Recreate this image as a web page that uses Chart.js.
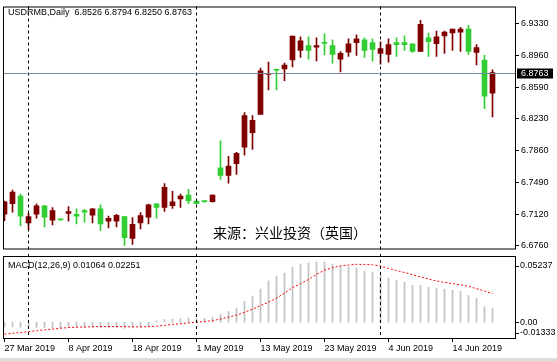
<!DOCTYPE html>
<html>
<head>
<meta charset="utf-8">
<script src="https://cdn.jsdelivr.net/npm/chart.js@4.4.1/dist/chart.umd.min.js"></script>
<style>
    html, body { margin: 0; padding: 0; background: #fff; }
    #wrap { position: relative; width: 557px; height: 361px; overflow: hidden; background: #fff; }
    canvas { position: absolute; left: 0; }
    #main { top: 0; }
    #macd { top: 254px; background: #fff; }
    .lbl { position: absolute; font: 9px "Liberation Sans", Arial, sans-serif; line-height: 11px; color: #000; white-space: pre; }
    #src { position: absolute; left: 213px; top: 224px; font: 14px "Noto Sans CJK SC", sans-serif; line-height: 16px; color: #000; white-space: pre; }
    #edge { position: absolute; left: 0; top: 358px; width: 557px; height: 3px; background: #dcdcdc; }
</style>
</head>
<body>
<div id="wrap">
    <canvas id="main" width="557" height="256"></canvas>
    <canvas id="macd" width="557" height="107"></canvas>
    <div class="lbl" id="head" style="left:8px;top:7px"></div>
    <div class="lbl" id="macdHead" style="left:8px;top:260px"></div>
    <div id="src"></div>
    <div id="edge"></div>
</div>
<script>
'use strict';

// --- DATA ---
const symbol = 'USDRMB,Daily';
const sourceText = '来源：兴业投资（英国）';

const dates = [
    '2019-03-27', '2019-03-28', '2019-03-29', '2019-04-01', '2019-04-02', '2019-04-03', '2019-04-04', '2019-04-05',
    '2019-04-08', '2019-04-09', '2019-04-10', '2019-04-11', '2019-04-12', '2019-04-15', '2019-04-16', '2019-04-17',
    '2019-04-18', '2019-04-22', '2019-04-23', '2019-04-24', '2019-04-25', '2019-04-26', '2019-04-29', '2019-04-30',
    '2019-05-01', '2019-05-02', '2019-05-03', '2019-05-06', '2019-05-07', '2019-05-08', '2019-05-09', '2019-05-10',
    '2019-05-13', '2019-05-14', '2019-05-15', '2019-05-16', '2019-05-17', '2019-05-20', '2019-05-21', '2019-05-22',
    '2019-05-23', '2019-05-24', '2019-05-27', '2019-05-28', '2019-05-29', '2019-05-30', '2019-05-31', '2019-06-03',
    '2019-06-04', '2019-06-05', '2019-06-06', '2019-06-07', '2019-06-10', '2019-06-11', '2019-06-12', '2019-06-13',
    '2019-06-14', '2019-06-17', '2019-06-18', '2019-06-19', '2019-06-20', '2019-06-21'
];

const open = [
    6.7122, 6.7246, 6.7333, 6.7021, 6.7122, 6.7220, 6.7055, 6.7062, 6.7133, 6.7122, 6.7164, 6.7111, 6.7186, 6.7043, 6.7043, 6.7096,
    6.6841, 6.7021, 6.7088, 6.7243, 6.7201, 6.7223, 6.7299, 6.7344, 6.7276, 6.7276, 6.7268, 6.7659, 6.7572, 6.7707, 6.7898, 6.8067,
    6.8280, 6.8742, 6.8800, 6.8806, 6.8910, 6.9019, 6.9076, 6.9057, 6.9110, 6.9076, 6.8918, 6.9000, 6.9110, 6.9143, 6.9110, 6.8986,
    6.8975, 6.9110, 6.9110, 6.9098, 6.9008, 6.9166, 6.9098, 6.9188, 6.9222, 6.9233, 6.9267, 6.8997, 6.8907, 6.8526
];
const high = [
    6.7276, 6.7403, 6.7355, 6.7133, 6.7243, 6.7226, 6.7201, 6.7063, 6.7212, 6.7186, 6.7178, 6.7188, 6.7231, 6.7100, 6.7122, 6.7096,
    6.7085, 6.7141, 6.7239, 6.7243, 6.7479, 6.7389, 6.7355, 6.7411, 6.7276, 6.7276, 6.7346, 6.7974, 6.7794, 6.7839, 6.8300, 6.8266,
    6.8817, 6.8885, 6.8806, 6.8873, 6.9187, 6.9177, 6.9177, 6.9166, 6.9211, 6.9143, 6.9008, 6.9154, 6.9200, 6.9166, 6.9154, 6.9121,
    6.9154, 6.9166, 6.9188, 6.9098, 6.9368, 6.9222, 6.9244, 6.9244, 6.9267, 6.9289, 6.9312, 6.9087, 6.8963, 6.8794
];
const low = [
    6.7048, 6.7145, 6.6987, 6.6947, 6.7077, 6.6976, 6.6998, 6.7055, 6.7043, 6.7010, 6.7032, 6.7021, 6.6931, 6.6965, 6.6976, 6.6762,
    6.6773, 6.6953, 6.7010, 6.7077, 6.7156, 6.7190, 6.7201, 6.7246, 6.7246, 6.7259, 6.7262, 6.7527, 6.7482, 6.7583, 6.7808, 6.7872,
    6.8280, 6.8562, 6.8562, 6.8671, 6.8828, 6.8940, 6.8918, 6.8899, 6.8967, 6.8873, 6.8772, 6.8952, 6.8963, 6.8940, 6.8896, 6.8862,
    6.8884, 6.8952, 6.9019, 6.8997, 6.9008, 6.8952, 6.8952, 6.8986, 6.9019, 6.9008, 6.8975, 6.8851, 6.8345, 6.8250
];
const close = [
    6.7265, 6.7378, 6.7100, 6.7096, 6.7220, 6.7088, 6.7164, 6.7058, 6.7153, 6.7100, 6.7145, 6.7186, 6.7010, 6.7074, 6.7111, 6.6852,
    6.7006, 6.7108, 6.7231, 6.7201, 6.7434, 6.7265, 6.7333, 6.7280, 6.7246, 6.7268, 6.7344, 6.7572, 6.7681, 6.7828, 6.8266, 6.8210,
    6.8783, 6.8750, 6.8790, 6.8851, 6.9187, 6.9132, 6.9019, 6.9076, 6.9102, 6.8975, 6.8986, 6.9098, 6.9154, 6.9019, 6.9031, 6.9042,
    6.9087, 6.9087, 6.9087, 6.9008, 6.9323, 6.9121, 6.9177, 6.9233, 6.9267, 6.9267, 6.9008, 6.9053, 6.8491, 6.8763
];

// MACD(12,26,9): main line drawn as histogram, signal as dotted line
const macdHist = [
    -0.0040, -0.0038, -0.0040, -0.0044, -0.0042, -0.0043, -0.0044, -0.0045, -0.0043, -0.0044, -0.0043, -0.0042, -0.0044, -0.0045, -0.0044, -0.0048,
    -0.0046, -0.0043, -0.0036, 0.0010, 0.0022, 0.0024, 0.0028, 0.0032, 0.0028, 0.0030, 0.0038, 0.0062, 0.0086, 0.0110, 0.0166, 0.0206,
    0.0262, 0.0326, 0.0364, 0.0388, 0.0436, 0.0460, 0.0468, 0.0476, 0.0476, 0.0460, 0.0444, 0.0436, 0.0428, 0.0404, 0.0396, 0.0380,
    0.0348, 0.0332, 0.0316, 0.0292, 0.0292, 0.0276, 0.0268, 0.0260, 0.0252, 0.0244, 0.0212, 0.0188, 0.0123, 0.01064
];
const macdSignal = [
    -0.0095, -0.0088, -0.0082, -0.0075, -0.0068, -0.0061, -0.0055, -0.0048, -0.0043, -0.0040, -0.0038, -0.0036, -0.0035, -0.0035, -0.0035, -0.0036,
    -0.0037, -0.0037, -0.0036, -0.0032, -0.0025, -0.0018, -0.0012, -0.0006, 0.0000, 0.0005, 0.0012, 0.0025, 0.0040, 0.0056, 0.0078, 0.0103,
    0.0131, 0.0158, 0.0190, 0.0230, 0.0273, 0.0305, 0.0337, 0.0378, 0.0412, 0.0430, 0.0446, 0.0452, 0.0458, 0.0457, 0.0454, 0.0444,
    0.0425, 0.0409, 0.0393, 0.0375, 0.0358, 0.0342, 0.0326, 0.0315, 0.0305, 0.0295, 0.0284, 0.0265, 0.0246, 0.02251
];

const priceTicks = [6.9330, 6.8960, 6.8590, 6.8230, 6.7860, 6.7490, 6.7120, 6.6760];
const macdTicks = [0.05237, 0.00, -0.01333];
const priceMin = 6.6714, priceMax = 6.9529;
const dateTickStep = 8;
const monthNames = ['Jan', 'Feb', 'Mar', 'Apr', 'May', 'Jun', 'Jul', 'Aug', 'Sep', 'Oct', 'Nov', 'Dec'];

// --- HELPERS ---
const BULL = '#800000', BEAR = '#32cd32';
const FONT = { family: '"Liberation Sans", Arial, sans-serif', size: 9, lineHeight: 1 };
const X_MIN = -0.1875, X_MAX = X_MIN + 513 / 8;

const last = dates.length - 1;
const idx = dates.map((d, i) => i);
const colors = close.map((c, i) => (c >= open[i] ? BULL : BEAR));
const monthStarts = idx.filter(i => i > 0 && dates[i].slice(5, 7) !== dates[i - 1].slice(5, 7));
const dateTicks = idx.filter(i => i % dateTickStep === 0);

function formatDate(d) {
    return `${+d.slice(8, 10)} ${monthNames[+d.slice(5, 7) - 1]} ${d.slice(0, 4)}`;
}

document.getElementById('head').textContent =
    `${symbol}  ${open[last].toFixed(4)} ${high[last].toFixed(4)} ${low[last].toFixed(4)} ${close[last].toFixed(4)}`;
document.getElementById('macdHead').textContent =
    `MACD(12,26,9) ${macdHist[last].toFixed(5)} ${macdSignal[last].toFixed(5)}`;
document.getElementById('src').textContent = sourceText;

// --- PLUGINS ---
const framePlugin = {
    id: 'frame',
    afterDraw(chart) {
        const { ctx, chartArea: a } = chart;
        ctx.save();
        ctx.strokeStyle = '#000';
        ctx.lineWidth = 1;
        ctx.strokeRect(a.left + 0.5, a.top + 0.5, a.right - a.left - 1, a.bottom - a.top - 1);
        ctx.restore();
    }
};

function separatorPlugin(fromTop) {
    return {
        id: 'separators',
        afterDatasetsDraw(chart) {
            const { ctx, chartArea: a, scales } = chart;
            ctx.save();
            ctx.strokeStyle = '#000';
            ctx.lineWidth = 1;
            ctx.setLineDash([3, 3]);
            monthStarts.forEach(i => {
                const px = Math.floor(scales.x.getPixelForValue(i)) + 0.5;
                ctx.beginPath();
                ctx.moveTo(px, fromTop ? 0 : a.top);
                ctx.lineTo(px, a.bottom);
                ctx.stroke();
            });
            ctx.restore();
        }
    };
}

const priceLinePlugin = {
    id: 'priceLine',
    afterDatasetsDraw(chart) {
        const { ctx, chartArea: a, scales } = chart;
        const py = Math.round(scales.y.getPixelForValue(close[last])) + 0.5;
        ctx.save();
        ctx.strokeStyle = '#778899';
        ctx.lineWidth = 1;
        ctx.beginPath();
        ctx.moveTo(a.left, py);
        ctx.lineTo(a.right, py);
        ctx.stroke();
        ctx.fillStyle = '#000';
        ctx.fillRect(a.right + 1, py - 5, 36, 10);
        ctx.fillStyle = '#fff';
        ctx.font = `${FONT.size}px ${FONT.family}`;
        ctx.textBaseline = 'middle';
        ctx.fillText(close[last].toFixed(4), a.right + 5, py + 0.5);
        ctx.restore();
    }
};

const macdAxisPlugin = {
    id: 'macdAxis',
    afterDraw(chart) {
        const { ctx, chartArea: a, scales } = chart;
        ctx.save();
        ctx.fillStyle = '#000';
        ctx.strokeStyle = '#000';
        ctx.font = `${FONT.size}px ${FONT.family}`;
        ctx.textBaseline = 'middle';
        macdTicks.forEach(v => {
            let py = scales.y.getPixelForValue(v);
            py = Math.min(Math.max(py, a.top + 10), a.bottom - 6);
            ctx.beginPath();
            ctx.moveTo(a.right, Math.round(py) + 0.5);
            ctx.lineTo(a.right + 3, Math.round(py) + 0.5);
            ctx.stroke();
            ctx.fillText(v === 0 ? '0.00' : v.toFixed(5), a.right + 4, py);
        });
        ctx.restore();
    }
};

// --- CHARTS ---
new Chart(document.getElementById('main'), {
    type: 'bar',
    data: {
        datasets: [
            {
                data: idx.map(i => ({ x: i, y: [low[i], high[i]] })),
                backgroundColor: colors,
                barThickness: 1,
                grouped: false,
                order: 2
            },
            {
                data: idx.map(i => ({ x: i, y: [open[i], close[i]] })),
                backgroundColor: colors,
                barThickness: 5,
                minBarLength: 1,
                grouped: false,
                order: 1
            }
        ]
    },
    options: {
        responsive: false,
        animation: false,
        devicePixelRatio: 1,
        layout: { padding: { left: 3, top: 3, right: 0, bottom: 2 } },
        plugins: { legend: { display: false }, tooltip: { enabled: false } },
        scales: {
            x: { type: 'linear', min: X_MIN, max: X_MAX, offset: false, display: false },
            y: {
                position: 'right',
                min: priceMin,
                max: priceMax,
                afterFit: s => { s.width = 41; },
                afterBuildTicks: s => { s.ticks = priceTicks.map(v => ({ value: v })); },
                ticks: { font: FONT, color: '#000', padding: 2, autoSkip: false, callback: v => v.toFixed(4) },
                grid: { drawOnChartArea: false, tickLength: 3, color: '#000' },
                border: { display: false }
            }
        }
    },
    plugins: [separatorPlugin(false), priceLinePlugin, framePlugin]
});

new Chart(document.getElementById('macd'), {
    type: 'bar',
    data: {
        datasets: [
            {
                type: 'line',
                data: idx.map(i => ({ x: i, y: macdSignal[i] })),
                borderColor: '#ff0000',
                borderWidth: 1,
                borderDash: [2, 2],
                pointRadius: 0,
                tension: 0,
                order: 1
            },
            {
                data: idx.map(i => ({ x: i, y: macdHist[i] })),
                backgroundColor: '#c0c0c0',
                barThickness: 1,
                grouped: false,
                order: 2
            }
        ]
    },
    options: {
        responsive: false,
        animation: false,
        devicePixelRatio: 1,
        layout: { padding: { left: 3, top: 2, right: 0, bottom: 0 } },
        plugins: { legend: { display: false }, tooltip: { enabled: false } },
        scales: {
            x: {
                type: 'linear',
                min: X_MIN,
                max: X_MAX,
                offset: false,
                afterFit: s => { s.height = 22; },
                afterBuildTicks: s => { s.ticks = dateTicks.map(v => ({ value: v })); },
                ticks: { font: FONT, color: '#000', padding: 2, align: 'start', maxRotation: 0, autoSkip: false,
                    callback: v => formatDate(dates[v]) },
                grid: { drawOnChartArea: false, tickLength: 3, color: '#000', offset: false },
                border: { display: false }
            },
            y: {
                position: 'right',
                min: macdTicks[2],
                max: macdTicks[0],
                afterFit: s => { s.width = 41; },
                ticks: { display: false },
                grid: { display: false },
                border: { display: false }
            }
        }
    },
    plugins: [separatorPlugin(true), macdAxisPlugin, framePlugin]
});
</script>
</body>
</html>
